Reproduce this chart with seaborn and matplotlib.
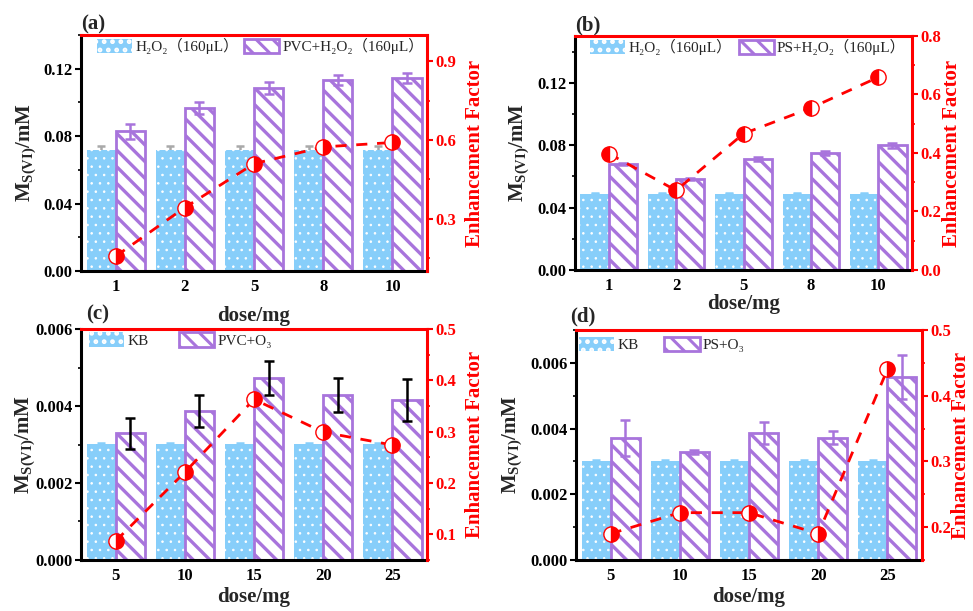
import numpy as np
import pandas as pd
import matplotlib
matplotlib.use('Agg')
import matplotlib.pyplot as plt
import matplotlib.patches as mpatches
from matplotlib.ticker import MultipleLocator, FormatStrFormatter
from matplotlib.font_manager import FontProperties
import seaborn as sns

# ---------------- data ----------------
doses_ab = ['1', '2', '5', '8', '10']
doses_cd = ['5', '10', '15', '20', '25']

a_ctrl = [0.072, 0.072, 0.072, 0.072, 0.072]
a_ctrl_err = [0.002, 0.002, 0.002, 0.002, 0.002]
a_samp = [0.0828, 0.0965, 0.1086, 0.1131, 0.1143]
a_samp_err = [0.0045, 0.0035, 0.0035, 0.0030, 0.0030]
a_ef = [0.156, 0.342, 0.509, 0.573, 0.590]

b_ctrl = [0.0488, 0.0488, 0.0488, 0.0488, 0.0488]
b_ctrl_err = [0.0004, 0.0004, 0.0004, 0.0004, 0.0004]
b_samp = [0.0680, 0.0583, 0.0712, 0.0750, 0.0800]
b_samp_err = [0.0008, 0.0008, 0.0015, 0.0015, 0.0015]
b_ef = [0.398, 0.272, 0.466, 0.554, 0.659]

c_ctrl = [0.00302, 0.00302, 0.00302, 0.00302, 0.00302]
c_ctrl_err = [0.00003, 0.00003, 0.00003, 0.00003, 0.00003]
c_samp = [0.00329, 0.00387, 0.00472, 0.00428, 0.00415]
c_samp_err = [0.00041, 0.00042, 0.00044, 0.00044, 0.00054]
c_ef = [0.087, 0.221, 0.363, 0.299, 0.274]

d_ctrl = [0.00302, 0.00302, 0.00302, 0.00302, 0.00302]
d_ctrl_err = [0.00003, 0.00003, 0.00003, 0.00003, 0.00003]
d_samp = [0.00372, 0.00329, 0.00387, 0.00372, 0.00557]
d_samp_err = [0.00054, 0.00005, 0.00033, 0.00020, 0.00066]
d_ef = [0.190, 0.222, 0.222, 0.190, 0.440]

labels_a = ['H₂O₂（160μL）', 'PVC+H₂O₂（160μL）']
labels_b = ['H₂O₂（160μL）', 'PS+H₂O₂（160μL）']
labels_c = ['KB', 'PVC+O₃']
labels_d = ['KB', 'PS+O₃']

# ---------------- style ----------------
sns.set_theme(style='ticks')
plt.rcParams['font.family'] = ['Liberation Serif', 'Noto Sans CJK SC', 'DejaVu Sans']
plt.rcParams['font.weight'] = 'bold'
plt.rcParams['axes.labelweight'] = 'bold'
plt.rcParams['mathtext.fontset'] = 'custom'
plt.rcParams['mathtext.rm'] = 'Liberation Serif'
plt.rcParams['mathtext.it'] = 'Liberation Serif:italic'
plt.rcParams['mathtext.bf'] = 'Liberation Serif:bold'
plt.rcParams['hatch.linewidth'] = 2.2

BLUE = '#87CEFA'
PURPLE = '#A874DC'
RED = '#FF0000'
GRAY = '#A9A9A9'

fig = plt.figure(figsize=(9.73, 6.11), dpi=100)


def set_hlw(p, lw):
    if hasattr(p, 'set_hatch_linewidth'):
        p.set_hatch_linewidth(lw)


def panel(rect, doses, ctrl, ctrl_err, samp, samp_err, ef, labels,
          ylim, ymaj, ymin_, yfmt, y2lim, y2maj, y2min,
          fill, ctrl_ec, samp_ec, tag, tagxy, leg_xy, colsp,
          xlabpad, ylab_x, y2lab_x):
    ax = fig.add_axes(rect)
    df = pd.DataFrame({'dose': list(doses) * 2,
                       'group': [labels[0]] * len(doses) + [labels[1]] * len(doses),
                       'value': list(ctrl) + list(samp)})
    sns.barplot(data=df, x='dose', y='value', hue='group', order=doses,
                hue_order=labels, palette=[BLUE, 'white'], width=0.84,
                errorbar=None, saturation=1, legend=False, ax=ax, zorder=2)
    for p in ax.containers[0]:
        p.set_facecolor(BLUE)
        p.set_edgecolor('white')
        p.set_linewidth(0)
        p.set_hatch('..')
        set_hlw(p, 0.6)
    for p in ax.containers[1]:
        p.set_facecolor('white')
        p.set_edgecolor(PURPLE)
        p.set_linewidth(2)
        p.set_hatch('\\\\')
        set_hlw(p, 2.4)
    xc0 = [p.get_x() + p.get_width() / 2 for p in ax.containers[0]]
    xc1 = [p.get_x() + p.get_width() / 2 for p in ax.containers[1]]
    ax.errorbar(xc0, ctrl, yerr=ctrl_err, fmt='none', ecolor=ctrl_ec,
                elinewidth=1.8, capsize=3, capthick=1.8, zorder=1.5)
    ax.errorbar(xc1, samp, yerr=samp_err, fmt='none', ecolor=samp_ec,
                elinewidth=1.8, capsize=3.5, capthick=1.8, zorder=3)

    ax.set_ylim(*ylim)
    ax.yaxis.set_major_locator(MultipleLocator(ymaj))
    ax.yaxis.set_minor_locator(MultipleLocator(ymin_))
    ax.yaxis.set_major_formatter(FormatStrFormatter(yfmt))
    ax.set_ylabel(r'$\mathbf{M_{S(VI)}/mM}$', fontsize=15)
    ax.yaxis.set_label_coords(ylab_x, 0.5)
    ax.set_xlabel('dose/mg', fontsize=15, fontweight='bold', labelpad=xlabpad)
    ax.tick_params(axis='y', which='major', direction='out', length=4,
                   width=1.5, labelsize=12, colors='black', pad=2)
    ax.tick_params(axis='y', which='minor', direction='out', length=2.5,
                   width=1.2, colors='black')
    ax.tick_params(axis='x', direction='in', length=5, width=2,
                   labelsize=12, pad=6, colors='black')
    for s in ['left', 'bottom']:
        ax.spines[s].set_color('black')
        ax.spines[s].set_linewidth(2.2)
    ax.spines['top'].set_visible(False)
    ax.spines['right'].set_visible(False)

    ax2 = ax.twinx()
    sns.lineplot(x=np.arange(len(doses)), y=ef, ax=ax2, color=RED, lw=2,
                 linestyle=(0, (4, 3.5)), marker='o', markersize=11,
                 fillstyle=fill, markerfacecolor=RED,
                 markerfacecoloralt='white', markeredgecolor=RED,
                 markeredgewidth=1.0)
    ln = ax2.lines[-1]
    ln.set_fillstyle(fill)
    ln.set_markerfacecolor(RED)
    ln.set_markerfacecoloralt('white')
    ln.set_markeredgecolor(RED)
    ln.set_markeredgewidth(1.0)
    ax2.set_ylim(*y2lim)
    ax2.yaxis.set_major_locator(MultipleLocator(y2maj))
    ax2.yaxis.set_minor_locator(MultipleLocator(y2min))
    ax2.yaxis.set_major_formatter(FormatStrFormatter('%.1f'))
    ax2.tick_params(axis='y', which='major', direction='out', length=4,
                    width=1.5, labelsize=12, colors=RED, pad=2)
    ax2.tick_params(axis='y', which='minor', direction='out', length=2.5,
                    width=1.2, colors=RED)
    ax2.set_ylabel('Enhancement Factor', color=RED, fontsize=15,
                   fontweight='bold')
    ax2.yaxis.set_label_coords(y2lab_x, 0.5)
    ax2.spines['left'].set_visible(False)
    ax2.spines['bottom'].set_visible(False)
    for s in ['top', 'right']:
        ax2.spines[s].set_color(RED)
        ax2.spines[s].set_linewidth(2.2)
    ax.set_xlim(-0.5, len(doses) - 0.5)
    ax2.set_xlabel('')

    h1 = mpatches.Patch(facecolor=BLUE, edgecolor='white', linewidth=0,
                        hatch='..')
    set_hlw(h1, 0.6)
    h2 = mpatches.Patch(facecolor='white', edgecolor=PURPLE, linewidth=2,
                        hatch='\\\\')
    set_hlw(h2, 2.4)
    ax2.legend([h1, h2], labels, loc='upper left', bbox_to_anchor=leg_xy,
               ncol=2, frameon=False, borderaxespad=0, borderpad=0.2,
               handlelength=2.3, handleheight=1.1, handletextpad=0.2,
               columnspacing=colsp,
               prop=FontProperties(family=['Liberation Serif', 'Noto Sans CJK SC', 'DejaVu Sans'],
                                   size=11, weight='normal'))
    ax.text(tagxy[0], tagxy[1], tag, transform=ax.transAxes, fontsize=15,
            fontweight='bold', ha='left', va='baseline')
    return ax, ax2


panel([0.0833, 0.5565, 0.3556, 0.3863], doses_ab, a_ctrl, a_ctrl_err,
      a_samp, a_samp_err, a_ef, labels_a,
      (0, 0.14), 0.04, 0.02, '%.2f', (0.1, 1.0), 0.3, 0.15,
      'right', GRAY, PURPLE, '(a)', (0.0, 1.022), (0.038, 1.0), 0.35,
      8, -0.124, 1.11)

panel([0.591, 0.5581, 0.3463, 0.383], doses_ab, b_ctrl, b_ctrl_err,
      b_samp, b_samp_err, b_ef, labels_b,
      (0, 0.15), 0.04, 0.02, '%.2f', (0.0, 0.8), 0.2, 0.1,
      'left', BLUE, PURPLE, '(b)', (0.0, 1.022), (0.036, 1.0), 0.45,
      0, -0.13, 1.09)

panel([0.0833, 0.0835, 0.3556, 0.378], doses_cd, c_ctrl, c_ctrl_err,
      c_samp, c_samp_err, c_ef, labels_c,
      (0, 0.006), 0.002, 0.001, '%.3f', (0.05, 0.5), 0.1, 0.05,
      'right', BLUE, 'black', '(c)', (0.014, 1.04), (0.015, 1.0), 2.0,
      2, -0.128, 1.11)

panel([0.592, 0.0835, 0.3556, 0.3764], doses_cd, d_ctrl, d_ctrl_err,
      d_samp, d_samp_err, d_ef, labels_d,
      (0, 0.007), 0.002, 0.001, '%.3f', (0.15, 0.5), 0.1, 0.05,
      'right', BLUE, PURPLE, '(d)', (-0.017, 1.035), (0.0, 0.985), 1.7,
      2, -0.15, 1.085)

fig.savefig('out.png', dpi=100)
